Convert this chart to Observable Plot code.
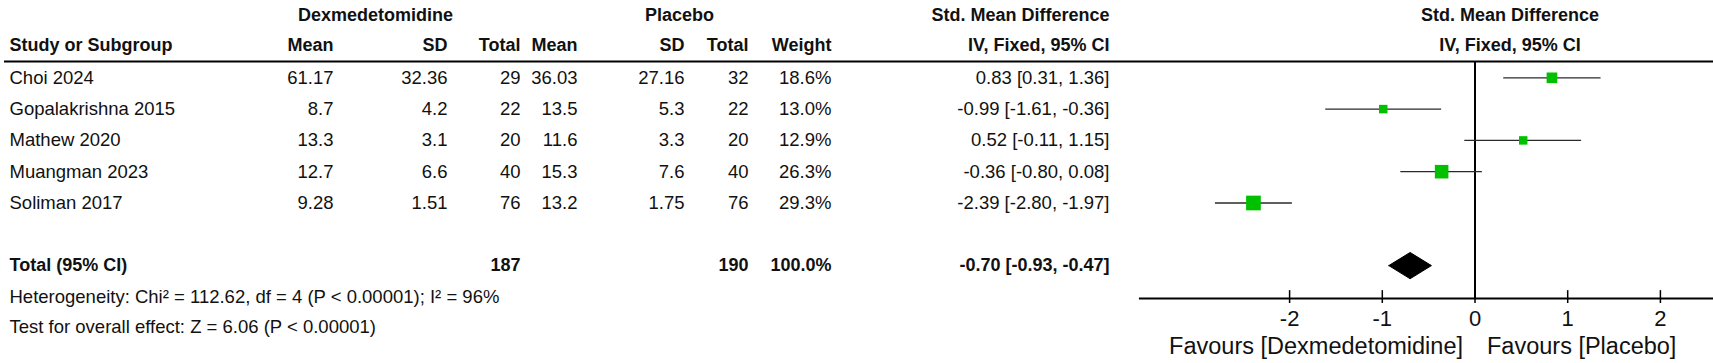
<!DOCTYPE html>
<html>
<head>
<meta charset="utf-8">
<script src="https://cdn.jsdelivr.net/npm/d3@7"></script>
<script src="https://cdn.jsdelivr.net/npm/@observablehq/plot@0.6"></script>
<style>
  html, body { margin: 0; padding: 0; background: #fff; overflow: hidden; }
  #chart svg { display: block; }
</style>
</head>
<body>
<div id="chart"></div>
<script>
// ---------------- data ----------------
const studies  = ["Choi 2024", "Gopalakrishna 2015", "Mathew 2020", "Muangman 2023", "Soliman 2017"];
const dexMean  = ["61.17", "8.7", "13.3", "12.7", "9.28"];
const dexSD    = ["32.36", "4.2", "3.1", "6.6", "1.51"];
const dexN     = [29, 22, 20, 40, 76];
const plaMean  = ["36.03", "13.5", "11.6", "15.3", "13.2"];
const plaSD    = ["27.16", "5.3", "3.3", "7.6", "1.75"];
const plaN     = [32, 22, 20, 40, 76];
const weights  = [18.6, 13.0, 12.9, 26.3, 29.3];
const smd      = [0.83, -0.99, 0.52, -0.36, -2.39];
const ciLow    = [0.31, -1.61, -0.11, -0.80, -2.80];
const ciHigh   = [1.36, -0.36, 1.15, 0.08, -1.97];

const totalLabel = "Total (95% CI)";
const totalDexN = 187, totalPlaN = 190, totalWeight = 100.0;
const pooled = {est: -0.70, lo: -0.93, hi: -0.47};
const heterogeneityText = "Heterogeneity: Chi\u00b2 = 112.62, df = 4 (P < 0.00001); I\u00b2 = 96%";
const overallText = "Test for overall effect: Z = 6.06 (P < 0.00001)";
const xTicks = [-2, -1, 0, 1, 2];
const favLeft = "Favours [Dexmedetomidine]";
const favRight = "Favours [Placebo]";
const group1 = "Dexmedetomidine", group2 = "Placebo";
const effHeader1 = "Std. Mean Difference", effHeader2 = "IV, Fixed, 95% CI";
const colHeaders = ["Study or Subgroup", "Mean", "SD", "Total", "Mean", "SD", "Total", "Weight", effHeader2];

// ---------------- layout (pixels / row units) ----------------
const W = 1713, H = 363;
const FONT = "'Liberation Sans', Arial, sans-serif";
const FS = 18.5, FSB = 18, FS_AXIS = 22, FS_FAV = 23.5;
const col = {study: 9, dexMean: 333, dexSD: 447, dexN: 520, plaMean: 577, plaSD: 684, plaN: 748, weight: 831, ci: 1109};
const grp = {dex: 375, pla: 679, eff: 1109};
const ROW = {h1: -1.99, h2: -1.03, hline: -0.52, total: 6, het: 7.0, test: 7.97, axis: 7.05, tickTop: 6.8, fav: 8.58};
const axisMin = -3.62, axisMax = 2.6;
const diamondHalf = 0.42;
const plotHeaderShift = 35;

const fmt2 = v => v.toFixed(2);
const rows = studies.map((s, i) => ({
  i, study: s, dexMean: dexMean[i], dexSD: dexSD[i], dexN: dexN[i],
  plaMean: plaMean[i], plaSD: plaSD[i], plaN: plaN[i], w: weights[i],
  smd: smd[i], lo: ciLow[i], hi: ciHigh[i],
  wText: weights[i].toFixed(1) + "%",
  ciText: `${fmt2(smd[i])} [${fmt2(ciLow[i])}, ${fmt2(ciHigh[i])}]`
}));
const diamond = [
  {x: pooled.lo, y: ROW.total}, {x: pooled.est, y: ROW.total - diamondHalf},
  {x: pooled.hi, y: ROW.total}, {x: pooled.est, y: ROW.total + diamondHalf},
  {x: pooled.lo, y: ROW.total}
];

function colText(data, y, text, px, anchor, bold) {
  return Plot.text(data, {
    y, text, frameAnchor: "left", dx: px, textAnchor: anchor,
    fontSize: bold ? FSB : FS, fontFamily: FONT, fontWeight: bold ? "bold" : "normal", fill: "#111"
  });
}
const one = [0];
const tableCols = [
  ["study", col.study, "start"], ["dexMean", col.dexMean, "end"], ["dexSD", col.dexSD, "end"],
  ["dexN", col.dexN, "end"], ["plaMean", col.plaMean, "end"], ["plaSD", col.plaSD, "end"],
  ["plaN", col.plaN, "end"], ["wText", col.weight, "end"], ["ciText", col.ci, "end"]
];
const headerPos = [col.study, col.dexMean, col.dexSD, col.dexN, col.plaMean, col.plaSD, col.plaN, col.weight, col.ci];

const marks = [
  // header line and zero line
  Plot.ruleY([ROW.hline], {stroke: "#000", strokeWidth: 2, insetLeft: 4}),
  Plot.ruleX([0], {y1: ROW.hline, y2: ROW.axis, stroke: "#000", strokeWidth: 2}),
  // axis
  Plot.ruleY([ROW.axis], {x1: axisMin, x2: axisMax, stroke: "#000", strokeWidth: 2}),
  Plot.ruleX(xTicks, {y1: ROW.tickTop, y2: ROW.axis, stroke: "#000", strokeWidth: 1.5}),
  Plot.axisX(xTicks, {anchor: "bottom", tickSize: 5, tickPadding: 7, tickFormat: d => String(d),
    fontSize: FS_AXIS, fontFamily: FONT, label: null, stroke: "#000", strokeWidth: 1.5, fill: "#111"}),
  Plot.text(one, {x: 0, y: ROW.fav, text: () => favLeft, dx: -12, textAnchor: "end", fontSize: FS_FAV, fontFamily: FONT, fill: "#111"}),
  Plot.text(one, {x: 0, y: ROW.fav, text: () => favRight, dx: 12, textAnchor: "start", fontSize: FS_FAV, fontFamily: FONT, fill: "#111"}),
  // forest marks
  Plot.ruleY(rows, {y: "i", x1: "lo", x2: "hi", stroke: "#2a2a2a", strokeWidth: 1.3}),
  Plot.dot(rows, {x: "smd", y: "i", r: "w", symbol: "square", fill: "#00c000", stroke: "none"}),
  Plot.line(diamond, {x: "x", y: "y", fill: "#000", stroke: "#000", strokeWidth: 1}),
  // plot headers
  Plot.text(one, {x: 0, y: ROW.h1, dx: plotHeaderShift, text: () => effHeader1, fontSize: FSB, fontFamily: FONT, fontWeight: "bold", fill: "#111"}),
  Plot.text(one, {x: 0, y: ROW.h2, dx: plotHeaderShift, text: () => effHeader2, fontSize: FSB, fontFamily: FONT, fontWeight: "bold", fill: "#111"}),
  // table group headers
  colText(one, () => ROW.h1, () => group1, grp.dex, "middle", true),
  colText(one, () => ROW.h1, () => group2, grp.pla, "middle", true),
  colText(one, () => ROW.h1, () => effHeader1, grp.eff, "end", true),
  // column headers
  ...colHeaders.map((h, k) => colText(one, () => ROW.h2, () => h, headerPos[k], k === 0 ? "start" : "end", true)),
  // study rows
  ...tableCols.map(([key, px, anchor]) => colText(rows, "i", key, px, anchor, false)),
  // total row
  colText(one, () => ROW.total, () => totalLabel, col.study, "start", true),
  colText(one, () => ROW.total, () => String(totalDexN), col.dexN, "end", true),
  colText(one, () => ROW.total, () => String(totalPlaN), col.plaN, "end", true),
  colText(one, () => ROW.total, () => totalWeight.toFixed(1) + "%", col.weight, "end", true),
  colText(one, () => ROW.total, () => `${fmt2(pooled.est)} [${fmt2(pooled.lo)}, ${fmt2(pooled.hi)}]`, col.ci, "end", true),
  // footer
  colText(one, () => ROW.het, () => heterogeneityText, col.study, "start", false),
  colText(one, () => ROW.test, () => overallText, col.study, "start", false)
];

const chart = Plot.plot({
  width: W, height: H,
  marginLeft: 0, marginRight: 0, marginTop: 0, marginBottom: 65,
  style: {fontFamily: FONT, fontSize: FS + "px", background: "#fff", color: "#111", overflow: "hidden"},
  x: {type: "linear", domain: [0, 1], range: [1474.5, 1567.2]},
  y: {type: "linear", domain: [0, 1], range: [77.3, 108.6], axis: null},
  r: {type: "linear", domain: [0, 29.3], range: [2, 8.3]},
  marks
});
document.getElementById("chart").appendChild(chart);
</script>
</body>
</html>
